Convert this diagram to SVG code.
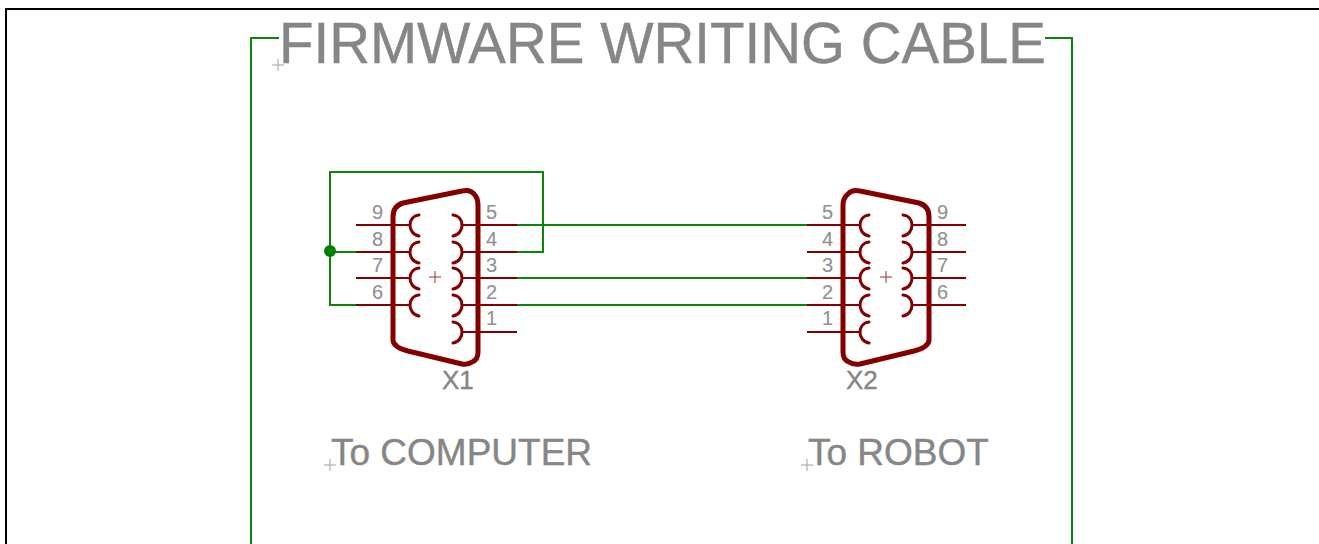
<svg xmlns="http://www.w3.org/2000/svg" width="1319" height="544" viewBox="0 0 1319 544">
<style>
text{font-family:"Liberation Sans",Arial,sans-serif;fill:#868686;stroke:#868686;stroke-width:.4}
.pn{font-size:20px;fill:#909090;stroke-width:.1}
.lb{font-size:37px}
.wire{fill:none;stroke:#0a850a;stroke-width:2}
.pin{fill:none;stroke:#840000;stroke-width:2}
.body{fill:none;stroke:#840000;stroke-width:5;stroke-linejoin:round}
.sock{fill:none;stroke:#840000;stroke-width:3;stroke-linecap:round}
.org{fill:none;stroke:#a0a0a0;stroke-width:1}
.orgr{fill:none;stroke:#903030;stroke-width:1}
</style>
<rect width="1319" height="544" fill="#fff"/>
<path d="M6 544V9H1319" fill="none" stroke="#000" stroke-width="2"/>
<g id="frame">
<path class="wire" d="M251 544V38H279M1045 38H1072V544"/>
<path class="org" d="M272 65H284M278 59V71"/>
<text x="279" y="63" style="font-size:56.5px">FIRMWARE WRITING CABLE</text>
</g>
<g id="connectors">
<path class="wire" d="M517 225H807M517 278H807M517 305H807M517 252H543V172H330V305H356M330 252H356"/>
<circle cx="330" cy="251" r="6" fill="#008000"/>
</g>
<g id="X1">
<path class="pin" d="M356 225H410M356 252H410M356 278H410M356 305H410M517 225H463M517 252H463M517 278H463M517 305H463M517 332H463"/>
<path class="body" d="M393 340V217Q393 206 403 203L462 191Q470 189 474 194Q478 198 478 205V352Q478 360 472 362Q468 365 462 364L408 351Q393 347 393 340Z"/>
<path class="sock" d="M419 215C407 216 407 234 419 236M419 242C407 243 407 261 419 263M419 268C407 269 407 287 419 289M419 295C407 296 407 314 419 316"/>
<path class="sock" d="M453 215C465 216 465 234 453 236M453 242C465 243 465 261 453 263M453 268C465 269 465 287 453 289M453 295C465 296 465 314 453 316M453 322C465 323 465 341 453 343"/>
<path class="orgr" d="M429 277H441M435 271V283"/>
<text class="pn" x="372" y="219">9</text><text class="pn" x="372" y="246">8</text><text class="pn" x="372" y="272">7</text><text class="pn" x="372" y="299">6</text>
<text class="pn" x="486" y="219">5</text><text class="pn" x="486" y="246">4</text><text class="pn" x="486" y="272">3</text><text class="pn" x="486" y="299">2</text><text class="pn" x="486" y="325">1</text>
<text x="442" y="389" style="font-size:26px">X1</text>
</g>
<g id="X2">
<path class="pin" d="M807 225H860M807 252H860M807 278H860M807 305H860M807 332H860M966 225H912M966 252H912M966 278H912M966 305H912"/>
<path class="body" d="M929 340V217Q929 206 919 203L860 191Q852 189 848 194Q843 198 843 205V352Q843 360 849 362Q853 365 860 364L914 351Q929 347 929 340Z"/>
<path class="sock" d="M869 215C857 216 857 234 869 236M869 242C857 243 857 261 869 263M869 268C857 269 857 287 869 289M869 295C857 296 857 314 869 316M869 322C857 323 857 341 869 343"/>
<path class="sock" d="M903 215C915 216 915 234 903 236M903 242C915 243 915 261 903 263M903 268C915 269 915 287 903 289M903 295C915 296 915 314 903 316"/>
<path class="orgr" d="M880 277H892M886 271V283"/>
<text class="pn" x="822" y="219">5</text><text class="pn" x="822" y="246">4</text><text class="pn" x="822" y="272">3</text><text class="pn" x="822" y="299">2</text><text class="pn" x="822" y="325">1</text>
<text class="pn" x="937" y="219">9</text><text class="pn" x="937" y="246">8</text><text class="pn" x="937" y="272">7</text><text class="pn" x="937" y="299">6</text>
<text x="846" y="389" style="font-size:26px">X2</text>
</g>
<g id="label-computer">
<path class="org" d="M324 465H336M330 459V471"/>
<text class="lb" x="331" y="465">To COMPUTER</text>
</g>
<g id="label-robot">
<path class="org" d="M801 465H813M807 459V471"/>
<text class="lb" x="808" y="465">To ROBOT</text>
</g>
</svg>
